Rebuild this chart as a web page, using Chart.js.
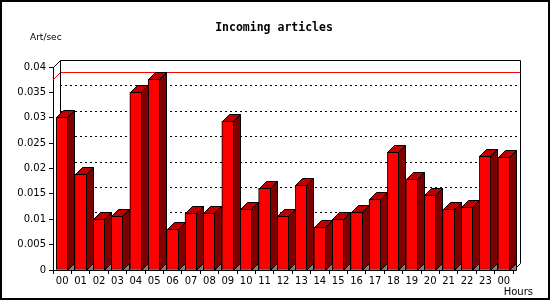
<!DOCTYPE html>
<html>
<head>
<meta charset="utf-8">
<script src="https://cdn.jsdelivr.net/npm/chart.js@4"></script>
<style>
  html, body { margin: 0; padding: 0; background: #fff; }
  #wrap { width: 550px; height: 300px; }
</style>
</head>
<body>
<div id="wrap"><canvas id="myChart" width="550" height="300"></canvas></div>
<script>
// datos
const horas = ['00','01','02','03','04','05','06','07','08','09','10','11','12',
               '13','14','15','16','17','18','19','20','21','22','23','00'];
const articulos = [0.0301, 0.0189, 0.0100, 0.0106, 0.0350, 0.0376, 0.0080, 0.0112,
                   0.0112, 0.0293, 0.0120, 0.0161, 0.0106, 0.0167, 0.0085, 0.0100,
                   0.0114, 0.0139, 0.0232, 0.0179, 0.0147, 0.0120, 0.0125, 0.0225, 0.0222];
const yTickLabels = ['0','0.005','0.01','0.015','0.02','0.025','0.03','0.035','0.04'];

const prof = 7; // profundidad 3D

const barras3d = {
    id: 'barras3d',
    beforeDatasetsDraw(chart) {
        const ctx = chart.ctx;
        const a = chart.chartArea;
        const y = chart.scales.y;
        const L = a.left + prof, R = a.right + prof;
        const T = Math.round(y.getPixelForValue(0.04)) - prof;
        const B = Math.round(y.getPixelForValue(0)) - prof;
        ctx.save();
        ctx.lineWidth = 1;
        // rejilla punteada en la pared del fondo
        ctx.strokeStyle = '#000';
        ctx.setLineDash([2, 3]);
        for (let i = 1; i < yTickLabels.length - 1; i++) {
            const py = Math.round(y.getPixelForValue(parseFloat(yTickLabels[i]))) - prof + 0.5;
            ctx.beginPath();
            ctx.moveTo(L, py);
            ctx.lineTo(R, py);
            ctx.stroke();
        }
        ctx.setLineDash([]);
        // linea del maximo
        const maxY = Math.round(y.getPixelForValue(Math.max(...articulos)));
        ctx.strokeStyle = '#ff0000';
        ctx.beginPath();
        ctx.moveTo(a.left + 0.5, maxY + 0.5);
        ctx.lineTo(L + 0.5, maxY - prof + 0.5);
        ctx.lineTo(R, maxY - prof + 0.5);
        ctx.stroke();
        // caja
        ctx.strokeStyle = '#000';
        ctx.beginPath();
        ctx.moveTo(a.left + 0.5, Math.round(y.getPixelForValue(0.04)) + 0.5);
        ctx.lineTo(L + 0.5, T + 0.5);
        ctx.lineTo(R + 0.5, T + 0.5);
        ctx.lineTo(R + 0.5, B + 0.5);
        ctx.lineTo(a.right + 0.5, B + prof + 0.5);
        ctx.moveTo(L + 0.5, T + 0.5);
        ctx.lineTo(L + 0.5, B + 0.5);
        ctx.stroke();
        ctx.restore();
    },
    afterDatasetsDraw(chart) {
        const ctx = chart.ctx;
        const meta = chart.getDatasetMeta(0);
        ctx.save();
        ctx.lineWidth = 1;
        ctx.strokeStyle = '#000';
        meta.data.forEach(bar => {
            const p = bar.getProps(['x', 'y', 'width', 'base'], true);
            const l = Math.round(p.x - p.width / 2) + 0.5;
            const r = Math.round(p.x + p.width / 2) - 0.5;
            const t = Math.round(p.y) + 0.5;
            const b = Math.round(p.base) + 0.5;
            // triangulo gris del piso
            ctx.fillStyle = '#808080';
            ctx.beginPath();
            ctx.moveTo(r, b);
            ctx.lineTo(r + prof, b - prof);
            ctx.lineTo(r + prof, b);
            ctx.closePath();
            ctx.fill();
            ctx.stroke();
            // lado
            ctx.fillStyle = '#800000';
            ctx.beginPath();
            ctx.moveTo(r, t);
            ctx.lineTo(r + prof, t - prof);
            ctx.lineTo(r + prof, b - prof);
            ctx.lineTo(r, b);
            ctx.closePath();
            ctx.fill();
            ctx.stroke();
            // tapa
            ctx.fillStyle = '#c00000';
            ctx.beginPath();
            ctx.moveTo(l, t);
            ctx.lineTo(l + prof, t - prof);
            ctx.lineTo(r + prof, t - prof);
            ctx.lineTo(r, t);
            ctx.closePath();
            ctx.fill();
            ctx.stroke();
        });
        ctx.restore();
    },
    afterDraw(chart) {
        const ctx = chart.ctx;
        ctx.save();
        ctx.fillStyle = '#000';
        ctx.textBaseline = 'middle';
        ctx.font = 'bold 11.5px "DejaVu Sans Mono"';
        ctx.textAlign = 'center';
        ctx.fillText('Incoming articles', 274, 28);
        ctx.font = '9px "DejaVu Sans"';
        ctx.textAlign = 'left';
        ctx.fillText('Art/sec', 30, 38);
        ctx.font = '10px "DejaVu Sans"';
        ctx.textAlign = 'right';
        ctx.fillText('Hours', 533, 292);
        // marco
        ctx.strokeStyle = '#000';
        ctx.lineWidth = 2;
        ctx.strokeRect(1, 1, 548, 298);
        ctx.restore();
    }
};

const ctx = document.getElementById('myChart').getContext('2d');
new Chart(ctx, {
    type: 'bar',
    data: {
        labels: horas,
        datasets: [{
            data: articulos,
            backgroundColor: '#ff0000',
            borderColor: '#000',
            borderWidth: 1,
            borderSkipped: false,
            barThickness: 12
        }]
    },
    options: {
        responsive: false,
        animation: false,
        events: [],
        layout: { padding: { left: 0, top: 67, right: 37, bottom: 0 } },
        plugins: { legend: { display: false }, tooltip: { enabled: false } },
        scales: {
            x: {
                afterFit(scale) { scale.height = 30; },
                grid: { display: true, drawOnChartArea: false, drawTicks: true, tickLength: 4, color: '#000' },
                border: { display: true, color: '#000' },
                ticks: { color: '#000', padding: 1, maxRotation: 0, autoSkip: false,
                         font: { family: 'DejaVu Sans', size: 10 } }
            },
            y: {
                min: 0,
                max: 0.04,
                afterFit(scale) { scale.width = 53; },
                grid: { display: true, drawOnChartArea: false, drawTicks: true, tickLength: 4, color: '#000' },
                border: { display: true, color: '#000' },
                ticks: { stepSize: 0.005, color: '#000', padding: 3,
                         font: { family: 'DejaVu Sans', size: 10 },
                         callback: (v, i) => yTickLabels[i] }
            }
        }
    },
    plugins: [barras3d]
});
</script>
</body>
</html>
